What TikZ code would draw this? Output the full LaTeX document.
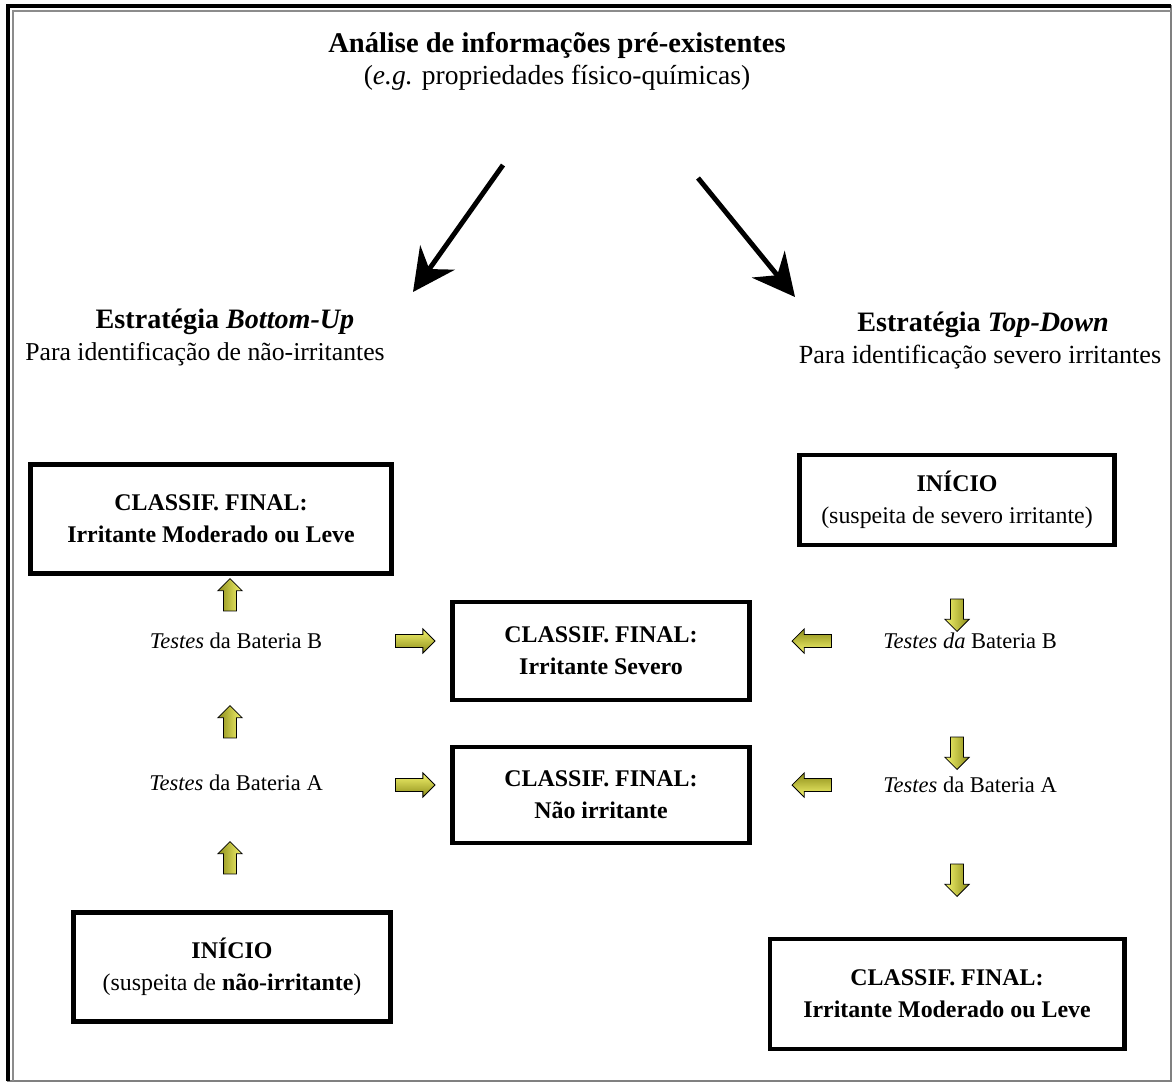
\documentclass[tikz,border=0pt]{standalone}
\usepackage{fontspec}
\setmainfont{Liberation Serif}
\usepackage{xcolor}
\usepackage{tikz}
\usetikzlibrary{positioning}
\usetikzlibrary{calc}
\usetikzlibrary{shapes.arrows}
\usetikzlibrary{arrows.meta}

\begin{document}
\begin{tikzpicture}
    [%%%%%%%%%%%%%%%%%%%%%%%%%%%%%%
        x=0.025cm, y=-0.025cm,
        box/.style={rectangle,draw=black,line width=3.5pt,align=center,inner sep=0pt,font=\fontsize{17}{22.5}\selectfont},
        txt/.style={align=center,inner sep=0pt},
        yarrow/.style={single arrow,draw=black,line width=0.6pt,inner xsep=0pt,inner ysep=4.3pt,single arrow head extend=4pt,minimum height=28pt},
        goright/.style={yarrow,top color=arrowlight,bottom color=arrowdark},
        goleft/.style={yarrow,rotate=180,top color=arrowdark,bottom color=arrowlight},
        goup/.style={yarrow,rotate=90,minimum height=23pt,left color=arrowdark,right color=arrowlight},
        godown/.style={yarrow,rotate=-90,minimum height=23pt,left color=arrowlight,right color=arrowdark},
        bigarrow/.style={line width=3.5pt,-{Stealth[length=30pt,width=30pt,inset=10pt]}}
    ]%%%%%%%%%%%%%%%%%%%%%%%%%%%%%%
\definecolor{arrowlight}{RGB}{245,245,110}
\definecolor{arrowdark}{RGB}{140,140,25}
\useasboundingbox (0,0) rectangle (1174,1084);

% frame
\draw[black!50,line width=1pt] (8,6) rectangle (1171,1081);
\draw[black!45,line width=2pt] (13,1081) -- (13,11) -- (1171,11);
\draw[line width=3pt] (8,1081) -- (8,6) -- (1171,6);

% top
\node[txt,font=\fontsize{20.3}{24}\selectfont\bfseries] (info) at (557,45) {Análise de informações pré-existentes};
\node[txt,font=\fontsize{19.6}{23}\selectfont] (eg) at (557,78) {(\textit{e.g.} propriedades físico-químicas)};

\node[txt,font=\fontsize{20}{24}\selectfont\bfseries] (bottomup) at (225,322) {Estratégia \textit{Bottom-Up}};
\node[txt,font=\fontsize{18.3}{22}\selectfont] (bupara) at (205,354) {Para identificação de não-irritantes};
\node[txt,font=\fontsize{20}{24}\selectfont\bfseries] (topdown) at (983,325) {Estratégia \textit{Top-Down}};
\node[txt,font=\fontsize{18.6}{22}\selectfont] (tdpara) at (980,357) {Para identificação severo irritantes};

\coordinate (lfrom) at (503,165);
\coordinate (lto) at (413,292);
\coordinate (rfrom) at (698,178);
\coordinate (rto) at (795,297);
\draw[bigarrow] (lfrom) -- (lto);
\draw[bigarrow] (rfrom) -- (rto);

% boxes
\node[box,minimum width=9cm,minimum height=2.72cm] (bufinal) at (211,519) {\textbf{CLASSIF. FINAL:}\\\textbf{Irritante Moderado ou Leve}};
\node[box,minimum width=7.9cm,minimum height=2.72cm] (bustart) at (232,967) {\textbf{INÍCIO}\\(suspeita de \textbf{não-irritante})};
\node[box,minimum width=7.42cm,minimum height=2.45cm] (severo) at (601,651) {\textbf{CLASSIF. FINAL:}\\\textbf{Irritante Severo}};
\node[box,minimum width=7.42cm,minimum height=2.4cm] (naoirr) at (601,795) {\textbf{CLASSIF. FINAL:}\\\textbf{Não irritante}};
\node[box,minimum width=7.88cm,minimum height=2.25cm] (tdstart) at (957,500) {\textbf{INÍCIO}\\(suspeita de severo irritante)};
\node[box,minimum width=8.85cm,minimum height=2.75cm] (tdfinal) at (947,994) {\textbf{CLASSIF. FINAL:}\\\textbf{Irritante Moderado ou Leve}};

% tests
\node[txt,font=\fontsize{16}{19}\selectfont] (buB) at (236,641) {\textit{Testes} da Bateria B};
\node[txt,font=\fontsize{16}{19}\selectfont] (buA) at (236,783) {\textit{Testes} da Bateria A};
\node[txt,font=\fontsize{16}{19}\selectfont] (tdB) at (970,641) {\textit{Testes da} Bateria B};
\node[txt,font=\fontsize{16}{19}\selectfont] (tdA) at (970,785) {\textit{Testes} da Bateria A};

% yellow arrows
\node[goup] (up1) at (230,598) {};
\node[goup] (up2) at (230,725) {};
\node[goup] (up3) at (230,861) {};
\node[goright] (r1) at (412,641) {};
\node[goright] (r2) at (412,785) {};
\node[goleft] (l1) at (815,641) {};
\node[goleft] (l2) at (815,785) {};
\node[godown] (d1) at (957,612) {};
\node[godown] (d2) at (957,750) {};
\node[godown] (d3) at (957,877) {};

\end{tikzpicture}
\end{document}
